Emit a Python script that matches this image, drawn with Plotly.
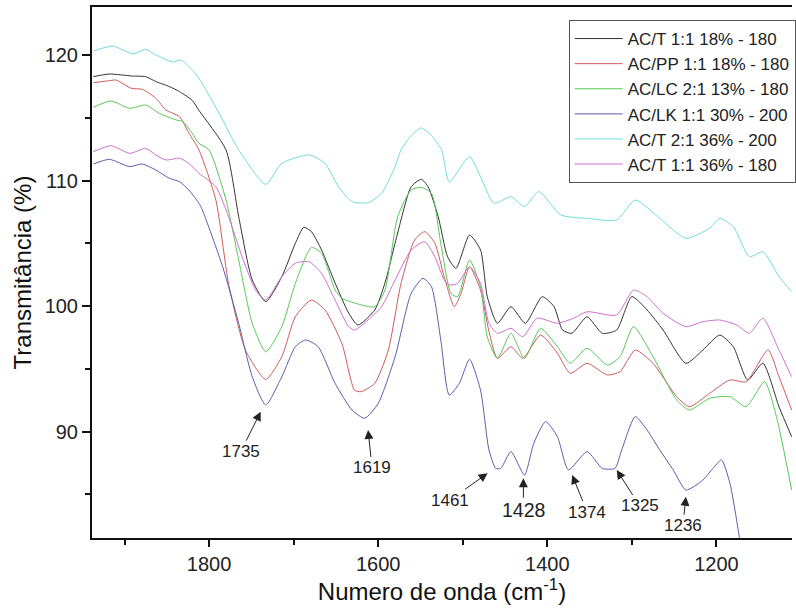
import plotly.graph_objects as go

# ---------------- data (wavenumber cm-1, transmittance %) ----------------
wn_black = [1937, 1918, 1891, 1875, 1863, 1847, 1835, 1820, 1812, 1780, 1765, 1749, 1733, 1714, 1698,
            1688, 1679, 1667, 1651, 1635, 1624, 1604, 1592, 1577, 1561, 1549, 1541, 1529, 1518, 1508,
            1492, 1479, 1471, 1459, 1443, 1426, 1406, 1392, 1382, 1371, 1353, 1335, 1318, 1300, 1282,
            1263, 1236, 1216, 1196, 1180, 1163, 1145, 1126, 1111]
t_black = [118.29, 118.5, 118.34, 118.29, 117.9, 117.5, 117.1, 116.4, 115.6, 112.45, 107.13, 102.09,
           100.36, 102.35, 105.01, 106.29, 105.94, 104.48, 101.85, 99.46, 98.5, 99.7, 101.85, 105.83,
           109.52, 110.11, 109.52, 107.13, 103.94, 103.02, 105.67, 104.48, 100.76, 98.64, 99.96, 98.64,
           100.76, 99.96, 98.1, 97.84, 99.16, 97.84, 98.1, 100.76, 99.7, 98.1, 95.45, 96.51, 97.7, 96.77,
           94.12, 95.45, 91.99, 89.6]

wn_red = [1937, 1918, 1910, 1892, 1879, 1863, 1851, 1835, 1824, 1812, 1792, 1777, 1757, 1733, 1714,
          1698, 1679, 1663, 1643, 1628, 1620, 1604, 1588, 1573, 1557, 1545, 1533, 1522, 1510, 1502,
          1492, 1479, 1469, 1459, 1443, 1429, 1408, 1388, 1373, 1353, 1329, 1314, 1296, 1275, 1247,
          1232, 1208, 1184, 1165, 1139, 1126, 1111]
t_red = [117.81, 117.97, 118.02, 117.36, 117.28, 116.57, 115.63, 115.1, 113.8, 112.45, 108.46, 101.82,
         96.51, 94.17, 95.98, 99.16, 100.49, 99.7, 97.04, 93.32, 93.19, 93.86, 96.51, 101.82, 105.27,
         105.94, 105.01, 102.35, 99.96, 101.03, 103.15, 101.29, 98.0, 95.85, 96.77, 95.85, 97.7, 96.25,
         94.65, 95.45, 94.52, 94.78, 96.51, 95.45, 92.79, 91.99, 93.06, 94.12, 93.98, 96.51, 94.38, 91.73]

wn_green = [1937, 1916, 1894, 1875, 1859, 1839, 1831, 1820, 1812, 1800, 1780, 1765, 1749, 1733, 1714,
            1698, 1679, 1667, 1651, 1643, 1620, 1604, 1592, 1577, 1561, 1549, 1537, 1526, 1514, 1506,
            1492, 1479, 1471, 1459, 1443, 1427, 1408, 1388, 1373, 1353, 1329, 1314, 1298, 1275, 1247,
            1232, 1208, 1184, 1165, 1143, 1129, 1111]
t_green = [115.85, 116.35, 115.77, 116.03, 115.37, 114.84, 114.7, 113.78, 112.98, 112.45, 108.46, 103.68,
           98.64, 96.37, 98.37, 101.82, 104.69, 104.21, 101.29, 100.63, 100.1, 99.96, 101.29, 107.13,
           109.26, 109.47, 109.0, 105.01, 101.03, 100.76, 103.68, 101.55, 97.57, 95.85, 97.84, 95.85,
           98.24, 96.77, 95.45, 96.65, 95.31, 95.98, 98.37, 95.98, 92.53, 91.73, 92.66, 92.79, 91.99,
           93.98, 91.2, 85.35]

wn_blue = [1937, 1918, 1894, 1879, 1863, 1847, 1835, 1824, 1812, 1808, 1784, 1765, 1749, 1733, 1714,
           1698, 1686, 1671, 1651, 1631, 1616, 1600, 1580, 1561, 1547, 1537, 1526, 1516, 1504, 1492,
           1479, 1469, 1461, 1455, 1443, 1427, 1416, 1402, 1388, 1375, 1353, 1335, 1320, 1312, 1296,
           1282, 1267, 1251, 1236, 1216, 1204, 1194, 1184, 1173, 1171]
t_blue = [111.33, 111.7, 111.12, 111.33, 110.85, 110.19, 109.92, 109.26, 108.2, 107.67, 103.15, 98.64,
          94.38, 92.13, 94.38, 96.77, 97.31, 96.77, 93.86, 91.73, 91.07, 92.26, 95.98, 101.03, 102.22,
          101.55, 97.31, 92.92, 93.86, 95.77, 93.32, 88.54, 87.08, 87.08, 88.41, 86.55, 89.08, 90.8,
          89.6, 86.95, 88.41, 87.08, 87.08, 88.54, 91.2, 90.14, 88.54, 86.95, 85.35, 86.15, 87.08,
          87.75, 85.89, 81.63, 80.57]

wn_cyan = [1937, 1914, 1890, 1875, 1863, 1843, 1833, 1820, 1812, 1790, 1765, 1733, 1714, 1682, 1663,
           1647, 1631, 1612, 1596, 1580, 1573, 1561, 1549, 1537, 1525, 1516, 1492, 1479, 1463, 1443,
           1427, 1410, 1384, 1353, 1318, 1296, 1267, 1236, 1208, 1196, 1180, 1161, 1145, 1126, 1111]
t_cyan = [120.33, 120.73, 120.1, 120.47, 120.02, 119.46, 119.62, 118.82, 118.16, 115.6, 112.45, 109.71,
          111.39, 112.05, 111.39, 109.52, 108.33, 108.25, 109.0, 111.12, 112.45, 113.6, 114.2, 113.6,
          112.45, 109.92, 111.92, 110.32, 108.2, 108.73, 107.93, 109.13, 107.27, 107.0, 106.87, 108.46,
          107.0, 105.41, 106.21, 107.0, 106.33, 103.94, 104.34, 102.35, 101.16]

wn_pink = [1937, 1916, 1894, 1875, 1863, 1851, 1835, 1824, 1812, 1792, 1777, 1761, 1745, 1733, 1714,
           1698, 1682, 1667, 1651, 1635, 1628, 1612, 1596, 1580, 1561, 1545, 1533, 1522, 1516, 1506,
           1492, 1479, 1469, 1459, 1443, 1429, 1412, 1388, 1369, 1353, 1318, 1298, 1282, 1263, 1236,
           1216, 1196, 1176, 1161, 1145, 1126, 1111]
t_pink = [112.31, 112.79, 112.18, 112.58, 112.05, 111.65, 111.79, 111.39, 110.59, 109.52, 107.13, 103.94,
          101.29, 100.49, 102.35, 103.42, 103.55, 102.62, 100.49, 98.37, 98.1, 98.9, 99.96, 102.09,
          104.48, 105.14, 103.94, 102.09, 101.69, 101.82, 103.15, 101.82, 98.64, 97.84, 98.24, 97.57,
          99.04, 98.64, 99.04, 99.56, 99.3, 101.29, 100.76, 99.43, 98.37, 98.77, 98.9, 98.5, 97.84,
          99.04, 96.51, 94.38]

series_names = ["AC/T 1:1 18% - 180", "AC/PP 1:1 18% - 180", "AC/LC 2:1 13% - 180",
                "AC/LK 1:1 30% - 200", "AC/T 2:1 36% - 200", "AC/T 1:1 36% - 180"]
series_colors = ["#333333", "#d05a5a", "#55c855", "#5c5cad", "#6fdcdc", "#cf6fcf"]

peak_labels = ["1735", "1619", "1461", "1428", "1374", "1325", "1236"]
peak_x = [1739, 1612, 1470.6, 1428.3, 1370.6, 1317.9, 1236.1]
peak_y = [91.59, 90.14, 86.69, 86.29, 86.55, 86.95, 84.82]
label_dx = [-20, 4, -38, 0, 15, 23, -3]
label_dy = [40, 38, 27, 32, 37, 36, 29]
label_size = [17, 17, 17, 19.5, 17, 17, 17]

xs = [wn_black, wn_red, wn_green, wn_blue, wn_cyan, wn_pink]
ys = [t_black, t_red, t_green, t_blue, t_cyan, t_pink]

FONT = "Liberation Sans, Arial, sans-serif"

fig = go.Figure()
for i in range(6):
    fig.add_trace(go.Scatter(x=xs[i], y=ys[i], mode="lines", name=series_names[i],
                             legendgroup=str(i),
                             line=dict(color=series_colors[i], width=1, shape="spline", smoothing=0.6)))

for i in range(len(peak_labels)):
    fig.add_annotation(x=peak_x[i], y=peak_y[i], text=peak_labels[i], showarrow=True,
                       ax=label_dx[i], ay=label_dy[i], arrowhead=2, arrowsize=1.8, arrowwidth=1,
                       arrowcolor="#222222", standoff=0,
                       font=dict(family=FONT, size=label_size[i], color="#222222"))

fig.update_layout(
    width=796, height=608,
    margin=dict(l=92, r=0, t=7, b=70),
    plot_bgcolor="white", paper_bgcolor="white",
    font=dict(family=FONT, color="#222222"),
    showlegend=True,
    legend=dict(x=0.681, y=0.9755, xanchor="left", yanchor="top",
                bgcolor="white", bordercolor="#555555", borderwidth=1,
                font=dict(family=FONT, size=17, color="#222222"),
                tracegroupgap=0, itemwidth=48),
    xaxis=dict(range=[1938.5, 1110.6], tick0=1200, dtick=200, ticks="outside", ticklen=7,
               tickwidth=2, tickcolor="#111111", showline=True, linewidth=2, linecolor="#111111",
               mirror=True, showgrid=False, zeroline=False,
               minor=dict(dtick=100, tick0=1200, ticks="outside", ticklen=5, tickwidth=2, tickcolor="#111111"),
               tickfont=dict(family=FONT, size=20, color="#222222"),
               title=dict(text="Numero de onda (cm<sup>-1</sup>)", font=dict(family=FONT, size=24, color="#111111"),
                          standoff=4)),
    yaxis=dict(range=[81.53, 123.84], tick0=90, dtick=10, ticks="outside", ticklen=8,
               tickwidth=2, tickcolor="#111111", showline=True, linewidth=2, linecolor="#111111",
               mirror=False, showgrid=False, zeroline=False,
               minor=dict(dtick=5, tick0=90, ticks="outside", ticklen=5, tickwidth=2, tickcolor="#111111"),
               tickfont=dict(family=FONT, size=20, color="#222222"),
               title=dict(text="Transmitância (%)", font=dict(family=FONT, size=24, color="#111111"),
                          standoff=6)),
)

fig.write_html("out.html")
